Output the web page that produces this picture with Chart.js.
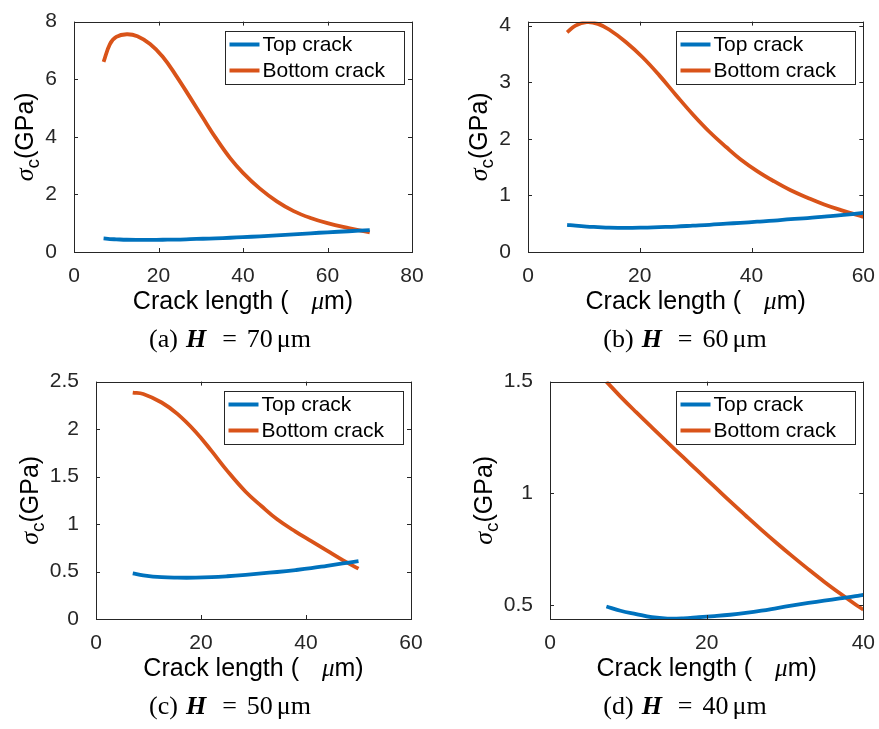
<!DOCTYPE html>
<html>
<head>
<meta charset="utf-8">
<script src="https://cdn.jsdelivr.net/npm/chart.js@4.4.1/dist/chart.umd.min.js"></script>
<style>
  body { margin: 0; background: #fff; }
  #wrap { position: relative; width: 879px; height: 729px; overflow: hidden; }
  canvas { position: absolute; }
</style>
</head>
<body>
<div id="wrap">
  <canvas id="chartA" width="440" height="360" style="left:0;top:0"></canvas>
  <canvas id="chartB" width="439" height="360" style="left:440px;top:0"></canvas>
  <canvas id="chartC" width="440" height="369" style="left:0;top:360px"></canvas>
  <canvas id="chartD" width="439" height="369" style="left:440px;top:360px"></canvas>
</div>
<script>
const seriesNames = ["Top crack", "Bottom crack"];
const seriesColors = ["#0072BD", "#D95319"];

// (a) H = 70 um
const crackA = [7, 8.5, 10, 12.5, 15, 18, 21, 24, 27.5, 30.5, 33.5, 37, 40, 44, 48, 52, 56, 60, 65, 70];
const topA = [0.47, 0.45, 0.44, 0.425, 0.42, 0.42, 0.425, 0.43, 0.445, 0.46, 0.475, 0.495, 0.515, 0.545, 0.58, 0.615, 0.65, 0.685, 0.72, 0.76];
const bottomA = [6.6, 7.22, 7.47, 7.56, 7.49, 7.22, 6.78, 6.16, 5.36, 4.66, 3.97, 3.25, 2.75, 2.2, 1.76, 1.42, 1.18, 1.0, 0.83, 0.68];
const xTicksA = [0, 20, 40, 60, 80];
const yTicksA = [0, 2, 4, 6, 8];

// (b) H = 60 um
const crackB = [7, 8.5, 10.5, 12.5, 14.5, 17.5, 20.5, 23.5, 26.5, 29.5, 32.5, 35.5, 38, 41, 44, 47, 50, 53, 56, 60];
const topB = [0.48, 0.465, 0.45, 0.44, 0.43, 0.425, 0.43, 0.44, 0.45, 0.465, 0.48, 0.5, 0.515, 0.535, 0.555, 0.58, 0.6, 0.625, 0.65, 0.69];
const bottomB = [3.88, 4.0, 4.06, 4.03, 3.93, 3.71, 3.44, 3.12, 2.77, 2.43, 2.12, 1.85, 1.64, 1.43, 1.25, 1.09, 0.96, 0.84, 0.74, 0.62];
const xTicksB = [0, 20, 40, 60];
const yTicksB = [0, 1, 2, 3, 4];

// (c) H = 50 um
const crackC = [7, 9, 12.5, 15.5, 19, 22, 25, 28.5, 31.5, 34.5, 38, 41, 44, 47, 50];
const topC = [0.48, 0.46, 0.44, 0.435, 0.435, 0.44, 0.45, 0.465, 0.48, 0.495, 0.515, 0.535, 0.56, 0.585, 0.61];
const bottomC = [2.385, 2.37, 2.28, 2.16, 1.97, 1.77, 1.56, 1.34, 1.19, 1.05, 0.92, 0.82, 0.72, 0.62, 0.53];
const xTicksC = [0, 20, 40, 60];
const yTicksC = [0, 0.5, 1, 1.5, 2, 2.5];

// (d) H = 40 um
const crackD = [7.2, 9, 11, 13, 15, 17, 19, 21, 23, 25, 27, 29, 31, 33, 35, 37, 39, 40];
const topD = [0.494, 0.475, 0.46, 0.446, 0.44, 0.441, 0.446, 0.451, 0.457, 0.465, 0.475, 0.487, 0.499, 0.51, 0.52, 0.53, 0.54, 0.546];
const bottomD = [1.5, 1.433, 1.363, 1.295, 1.228, 1.162, 1.096, 1.03, 0.964, 0.9, 0.837, 0.776, 0.717, 0.66, 0.605, 0.553, 0.503, 0.48];
const xTicksD = [0, 20, 40];
const yTicksD = [0.5, 1, 1.5];

const panels = [
  { id: "chartA", xs: crackA, top: topA, bottom: bottomA, xTicks: xTicksA, yTicks: yTicksA,
    xMax: 80, yMin: 0, yMax: 8, tag: "(a)", h: "70", yWidth: 74, xHeight: 108, pad: { top: 12, right: 28 }, capX: 230 },
  { id: "chartB", xs: crackB, top: topB, bottom: bottomB, xTicks: xTicksB, yTicks: yTicksB,
    xMax: 60, yMin: 0, yMax: 4.07, tag: "(b)", h: "60", yWidth: 88, xHeight: 108, pad: { top: 12, right: 13 }, capX: 245 },
  { id: "chartC", xs: crackC, top: topC, bottom: bottomC, xTicks: xTicksC, yTicks: yTicksC,
    xMax: 60, yMin: 0, yMax: 2.5, tag: "(c)", h: "50", yWidth: 96, xHeight: 110, pad: { top: 19, right: 29 }, capX: 230 },
  { id: "chartD", xs: crackD, top: topD, bottom: bottomD, xTicks: xTicksD, yTicks: yTicksD,
    xMax: 40, yMin: 0.438, yMax: 1.5, tag: "(d)", h: "40", yWidth: 110, xHeight: 110, pad: { top: 19, right: 14 }, capX: 245 },
];

const AXIS = "#262626";
const SANS = "'Liberation Sans', Arial, sans-serif";
const SERIF = "'Liberation Serif', 'Times New Roman', serif";

Chart.defaults.font.family = SANS;
Chart.defaults.color = AXIS;

// draws the matlab style box, inward ticks, legend, axis titles and the caption
const matlabFrame = {
  id: "matlabFrame",
  afterDatasetsDraw(chart, args, opts) {
    const ctx = chart.ctx;
    const a = chart.chartArea;
    const xs = chart.scales.x, ys = chart.scales.y;
    ctx.save();

    // box + ticks
    ctx.strokeStyle = AXIS;
    ctx.lineWidth = 1;
    ctx.strokeRect(Math.round(a.left) + 0.5, Math.round(a.top) + 0.5, Math.round(a.right - a.left), Math.round(a.bottom - a.top));
    const tl = 4;
    ctx.beginPath();
    xs.ticks.forEach(t => {
      const px = Math.round(xs.getPixelForValue(t.value)) + 0.5;
      ctx.moveTo(px, a.bottom); ctx.lineTo(px, a.bottom - tl);
      ctx.moveTo(px, a.top); ctx.lineTo(px, a.top + tl);
    });
    ys.ticks.forEach(t => {
      const py = Math.round(ys.getPixelForValue(t.value)) + 0.5;
      ctx.moveTo(a.left, py); ctx.lineTo(a.left + tl, py);
      ctx.moveTo(a.right, py); ctx.lineTo(a.right - tl, py);
    });
    ctx.stroke();

    // legend
    const bw = 179, bh = 53;
    const bx = Math.round(a.right - 8 - bw) + 0.5, by = Math.round(a.top + 9) + 0.5;
    ctx.fillStyle = "#fff";
    ctx.fillRect(bx, by, bw, bh);
    ctx.strokeStyle = AXIS;
    ctx.strokeRect(bx, by, bw, bh);
    ctx.font = "21px " + SANS;
    ctx.textBaseline = "middle";
    ctx.textAlign = "left";
    chart.data.datasets.forEach((ds, i) => {
      const ry = by + 13 + i * 26;
      ctx.strokeStyle = ds.borderColor;
      ctx.lineWidth = 4;
      ctx.beginPath();
      ctx.moveTo(bx + 4, ry); ctx.lineTo(bx + 34, ry);
      ctx.stroke();
      ctx.fillStyle = "#000";
      ctx.fillText(ds.label, bx + 37, ry + 1);
    });

    // x title: Crack length (   μm)
    const parts = [
      { t: "Crack length (", f: "25px " + SANS },
      { gap: 23 },
      { t: "μ", f: "italic 25px " + SERIF },
      { t: "m)", f: "25px " + SANS },
    ];
    drawParts(ctx, parts, (a.left + a.right) / 2, a.bottom + 50, "#000");

    // caption
    const cap = [
      { t: opts.tag, f: "26px " + SERIF },
      { gap: 8 },
      { t: "H", f: "bold italic 26px " + SERIF },
      { gap: 16 },
      { t: "=", f: "26px " + SERIF },
      { gap: 10 },
      { t: opts.h, f: "26px " + SERIF },
      { gap: 4 },
      { t: "μm", f: "26px " + SERIF },
    ];
    drawParts(ctx, cap, opts.capX, a.bottom + 88, "#000");

    // y title: σc(GPa), rotated
    ctx.font = "21px " + SANS;
    let maxW = 0;
    ys.ticks.forEach(t => { maxW = Math.max(maxW, ctx.measureText(String(t.value)).width); });
    const baseX = a.left - 9 - maxW - 20;
    const cy = (a.top + a.bottom) / 2;
    const ypart = [
      { t: "σ", f: "italic 26px " + SERIF, dy: 0 },
      { t: "c", f: "19px " + SANS, dy: 6 },
      { t: "(GPa)", f: "25px " + SANS, dy: 0 },
    ];
    let total = 0;
    ypart.forEach(p => { ctx.font = p.f; p.w = ctx.measureText(p.t).width; total += p.w; });
    ctx.translate(baseX, cy);
    ctx.rotate(-Math.PI / 2);
    ctx.textBaseline = "alphabetic";
    ctx.fillStyle = "#000";
    let px = -total / 2;
    ypart.forEach(p => { ctx.font = p.f; ctx.fillText(p.t, px, p.dy); px += p.w; });
    ctx.restore();
  }
};

function drawParts(ctx, parts, cx, cy, color) {
  let total = 0;
  parts.forEach(p => {
    if (p.gap) { total += p.gap; return; }
    ctx.font = p.f; p.w = ctx.measureText(p.t).width; total += p.w;
  });
  let x = cx - total / 2;
  ctx.textBaseline = "middle";
  ctx.textAlign = "left";
  ctx.fillStyle = color;
  parts.forEach(p => {
    if (p.gap) { x += p.gap; return; }
    ctx.font = p.f; ctx.fillText(p.t, x, cy); x += p.w;
  });
}

panels.forEach(P => {
  const series = [P.top, P.bottom];
  const datasets = series.map((vals, i) => ({
    label: seriesNames[i],
    data: P.xs.map((x, j) => ({ x: x, y: vals[j] })),
    borderColor: seriesColors[i],
    borderWidth: 3.8,
    pointRadius: 0,
    fill: false,
    tension: 0.4,
    clip: 0,
  }));

  new Chart(document.getElementById(P.id), {
    type: "line",
    data: { datasets: datasets },
    options: {
      responsive: false,
      animation: false,
      events: [],
      layout: { padding: { top: P.pad.top, right: P.pad.right, left: 0, bottom: 0 } },
      plugins: {
        legend: { display: false },
        tooltip: { enabled: false },
        matlabFrame: { tag: P.tag, h: P.h, capX: P.capX },
      },
      scales: {
        x: {
          type: "linear",
          min: 0,
          max: P.xMax,
          grid: { display: false },
          border: { display: false },
          afterBuildTicks: s => { s.ticks = P.xTicks.map(v => ({ value: v })); },
          afterFit: s => { s.height = P.xHeight; },
          ticks: { font: { size: 21 }, color: AXIS, padding: 4, maxRotation: 0, autoSkip: false, callback: v => String(v) },
        },
        y: {
          type: "linear",
          min: P.yMin,
          max: P.yMax,
          grid: { display: false },
          border: { display: false },
          afterBuildTicks: s => { s.ticks = P.yTicks.map(v => ({ value: v })); },
          afterFit: s => { s.width = P.yWidth; },
          ticks: { font: { size: 21 }, color: AXIS, padding: 9, autoSkip: false, callback: v => String(v) },
        },
      },
    },
    plugins: [matlabFrame],
  });
});
</script>
</body>
</html>
